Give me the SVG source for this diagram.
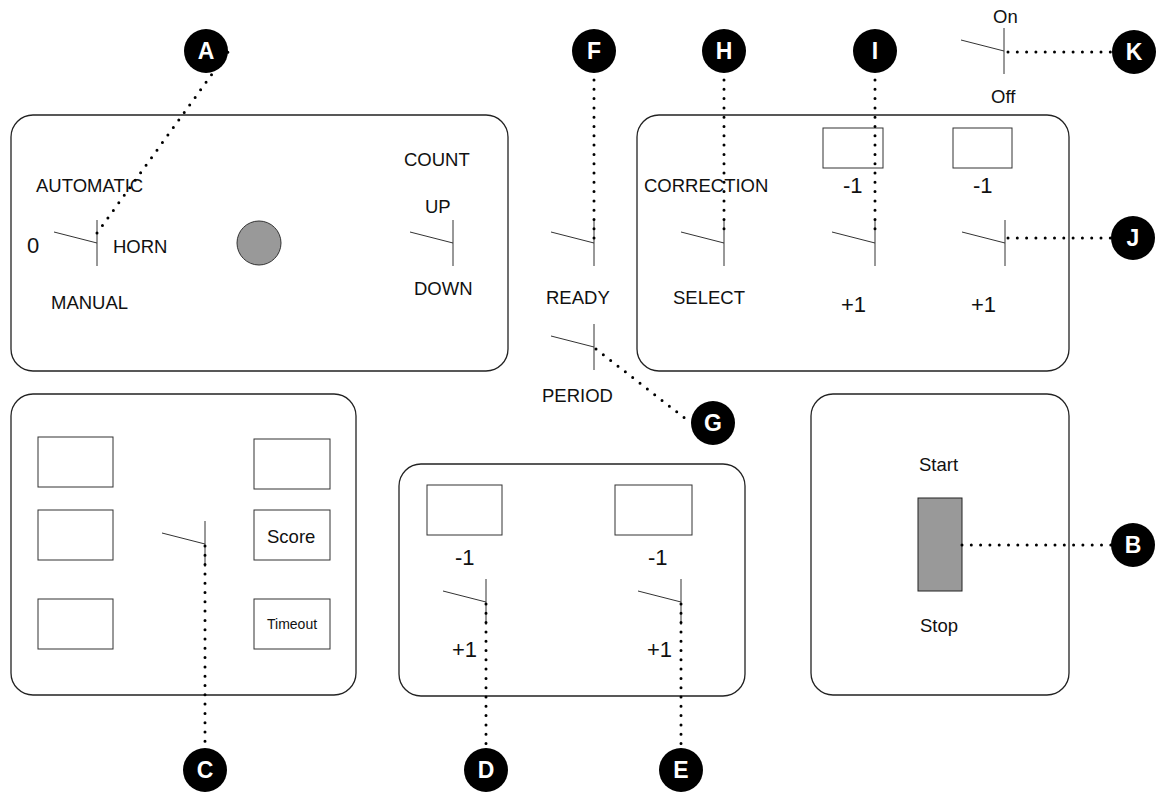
<svg xmlns="http://www.w3.org/2000/svg" width="1159" height="795" viewBox="0 0 1159 795">
<style>
.panel{fill:#fff;stroke:#222;stroke-width:1.3}
.box{fill:#fff;stroke:#333;stroke-width:1}
.sw{stroke:#333;stroke-width:1;fill:none}
.dot{stroke:#000;stroke-width:3;stroke-linecap:round;stroke-dasharray:0 9.3;fill:none}
.lbl{font-family:"Liberation Sans",Arial,sans-serif;font-size:18.5px;fill:#111}
.num{font-family:"Liberation Sans",Arial,sans-serif;font-size:22px;fill:#111}
.small{font-family:"Liberation Sans",Arial,sans-serif;font-size:14px;fill:#111}
.mk circle{fill:#000}
.mk text{font-family:"Liberation Sans",Arial,sans-serif;font-size:23px;font-weight:bold;fill:#fff;text-anchor:middle}
</style>
<rect width="1159" height="795" fill="#fff"/>

<g id="panel-main">
<rect class="panel" x="11" y="115" width="497" height="256" rx="22"/>
<text class="lbl" x="36" y="192">AUTOMATIC</text>
<text class="num" x="27" y="253">0</text>
<text class="lbl" x="113" y="253">HORN</text>
<text class="lbl" x="51" y="309">MANUAL</text>
<path class="sw" d="M97 220V266M54 232L97 243"/>
<circle cx="259" cy="243" r="22" fill="#999" stroke="#333" stroke-width="1"/>
<text class="lbl" x="404" y="166">COUNT</text>
<text class="lbl" x="425" y="213">UP</text>
<text class="lbl" x="414" y="295">DOWN</text>
<path class="sw" d="M453 220V266M410 232L453 243"/>
</g>

<g id="ready-switch">
<path class="sw" d="M594 220V266M551 232L594 243"/>
<text class="lbl" x="546" y="304">READY</text>
</g>

<g id="period-switch">
<path class="sw" d="M594 324V370M551 336L594 347"/>
<text class="lbl" x="542" y="402">PERIOD</text>
</g>

<g id="panel-correction">
<rect class="panel" x="637" y="115" width="432" height="256" rx="22"/>
<text class="lbl" x="644" y="192">CORRECTION</text>
<text class="lbl" x="673" y="304">SELECT</text>
<path class="sw" d="M724 220V266M681 232L724 243"/>
<rect class="box" x="823" y="128" width="60" height="40"/>
<rect class="box" x="953" y="128" width="59" height="40"/>
<text class="num" x="843" y="193">-1</text>
<text class="num" x="973" y="193">-1</text>
<path class="sw" d="M875 220V266M832 232L875 243"/>
<path class="sw" d="M1005 220V266M962 232L1005 243"/>
<text class="num" x="841" y="312">+1</text>
<text class="num" x="971" y="312">+1</text>
</g>

<g id="onoff-switch">
<text class="lbl" x="993" y="23">On</text>
<path class="sw" d="M1004 28V74M961 40L1004 51"/>
<text class="lbl" x="991" y="103">Off</text>
</g>

<g id="panel-score">
<rect class="panel" x="11" y="394" width="345" height="301" rx="22"/>
<rect class="box" x="38" y="437" width="75" height="50"/>
<rect class="box" x="38" y="510" width="75" height="50"/>
<rect class="box" x="38" y="599" width="75" height="50"/>
<rect class="box" x="254" y="439" width="76" height="50"/>
<rect class="box" x="254" y="510" width="76" height="50"/>
<rect class="box" x="254" y="599" width="76" height="50"/>
<text class="lbl" x="267" y="543">Score</text>
<text class="small" x="267" y="629">Timeout</text>
<path class="sw" d="M205 521V567M162 533L205 544"/>
</g>

<g id="panel-period">
<rect class="panel" x="399" y="464" width="346" height="232" rx="22"/>
<rect class="box" x="427" y="485" width="75" height="50"/>
<rect class="box" x="615" y="485" width="77" height="50"/>
<text class="num" x="455" y="565">-1</text>
<text class="num" x="648" y="565">-1</text>
<path class="sw" d="M486 579V625M443 591L486 602"/>
<path class="sw" d="M681 579V625M638 591L681 602"/>
<text class="num" x="452" y="657">+1</text>
<text class="num" x="647" y="657">+1</text>
</g>

<g id="panel-startstop">
<rect class="panel" x="811" y="394" width="258" height="301" rx="22"/>
<text class="lbl" x="919" y="471">Start</text>
<rect x="918" y="498" width="44" height="93" fill="#999" stroke="#222" stroke-width="1"/>
<text class="lbl" x="920" y="632">Stop</text>
</g>

<g id="connectors">
<path class="dot" d="M97 233L228 52"/>
<path class="dot" d="M594 80V242"/>
<path class="dot" d="M724 80V233"/>
<path class="dot" d="M875 80V233"/>
<path class="dot" d="M1008 52H1112"/>
<path class="dot" d="M1008 238H1112"/>
<path class="dot" d="M596 349L691 423"/>
<path class="dot" d="M962 545H1112"/>
<path class="dot" d="M205 546V748"/>
<path class="dot" d="M486 604V748"/>
<path class="dot" d="M681 604V748"/>
</g>

<g id="marker-A" class="mk"><circle cx="206" cy="51" r="22"/><text x="206" y="59">A</text></g>
<g id="marker-F" class="mk"><circle cx="594" cy="51" r="22"/><text x="594" y="59">F</text></g>
<g id="marker-H" class="mk"><circle cx="724" cy="51" r="22"/><text x="724" y="59">H</text></g>
<g id="marker-I" class="mk"><circle cx="875" cy="51" r="22"/><text x="875" y="59">I</text></g>
<g id="marker-K" class="mk"><circle cx="1134" cy="52" r="22"/><text x="1134" y="60">K</text></g>
<g id="marker-J" class="mk"><circle cx="1133" cy="238" r="22"/><text x="1133" y="246">J</text></g>
<g id="marker-G" class="mk"><circle cx="713" cy="423" r="22"/><text x="713" y="431">G</text></g>
<g id="marker-B" class="mk"><circle cx="1133" cy="545" r="22"/><text x="1133" y="553">B</text></g>
<g id="marker-C" class="mk"><circle cx="205" cy="770" r="22"/><text x="205" y="778">C</text></g>
<g id="marker-D" class="mk"><circle cx="486" cy="770" r="22"/><text x="486" y="778">D</text></g>
<g id="marker-E" class="mk"><circle cx="681" cy="770" r="22"/><text x="681" y="778">E</text></g>
</svg>
